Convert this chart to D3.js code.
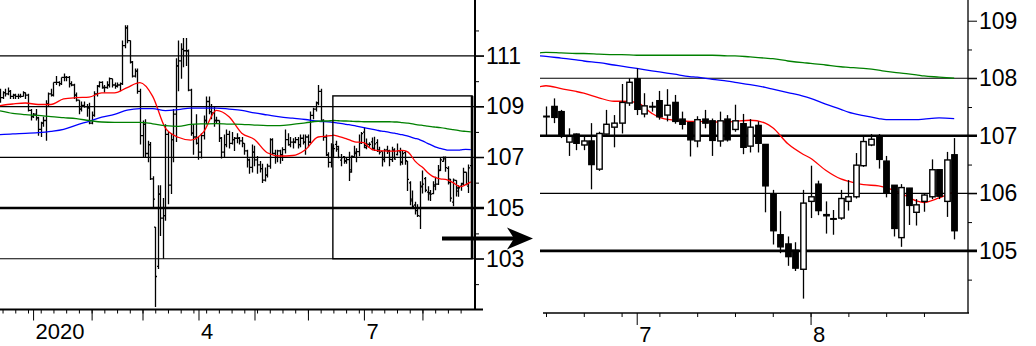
<!DOCTYPE html>
<html>
<head>
<meta charset="utf-8">
<script src="https://cdn.jsdelivr.net/npm/d3@7/dist/d3.min.js"></script>
<style>
  body { margin: 0; background: #fff; }
  svg { display: block; }
  .axis text { font-family: "Liberation Sans", Arial, sans-serif; font-size: 23px; fill: #000; }
  .axis.x text { font-size: 22px; }
</style>
</head>
<body>
<script>
// trading days (weekdays) covered by the chart
var startDate = "2019-12-13";
var endDate = "2020-08-28";
var zoomStart = "2020-06-15";

// daily OHLC, one value per weekday from startDate to endDate
var opens = [
  109.55,109.35,109.55,109.50,109.60,109.40,109.45,109.40,109.40,109.40,
  109.55,109.45,108.85,108.60,108.70,108.55,108.10,108.35,108.45,109.10,
  109.50,109.45,109.95,109.95,109.90,110.15,110.15,110.15,109.90,109.85,
  109.45,109.25,108.90,109.05,109.00,108.95,108.35,108.65,109.50,109.80,
  109.95,109.75,109.75,109.85,110.10,109.85,109.80,109.85,109.90,111.40,
  112.10,111.60,110.75,110.20,110.40,109.60,107.85,108.30,107.15,107.50,
  106.15,104.25,102.70,105.55,104.60,104.70,107.90,105.90,107.70,108.70,
  110.60,110.80,111.25,111.20,111.20,109.65,107.95,107.80,107.55,107.20,
  107.85,108.45,109.20,108.80,108.75,108.45,108.45,107.75,107.20,107.50,
  107.90,107.55,107.70,107.75,107.75,107.65,107.55,107.25,106.90,106.60,
  107.20,106.90,106.70,106.55,106.10,106.30,106.65,107.70,107.15,107.00,
  107.25,107.10,107.30,107.70,107.50,107.60,107.60,107.70,107.50,107.75,
  107.60,107.80,107.60,108.65,108.90,109.15,109.60,108.45,107.80,107.10,
  106.80,107.33,107.51,107.42,106.89,107.03,106.84,106.91,106.42,107.03,
  107.15,107.22,107.57,107.99,107.38,107.51,107.61,107.36,107.58,107.29,
  107.23,106.91,107.29,107.26,106.91,107.29,107.11,107.21,106.82,107.18,
  106.85,105.99,105.28,105.12,105.01,104.68,105.86,106.16,105.63,105.56,
  105.57,105.86,105.94,106.48,106.84,107.00,106.56,106.14,105.23,106.09,
  105.67,105.86,105.94,106.41,105.86,106.67
];
var highs = [
  109.70,109.60,109.70,109.75,109.65,109.50,109.50,109.50,109.50,109.60,
  109.55,109.50,108.90,108.75,108.90,108.60,108.40,108.60,109.25,109.55,
  109.70,109.95,110.20,110.00,110.15,110.30,110.20,110.20,110.00,109.90,
  109.55,109.25,109.20,109.20,109.10,109.15,108.80,109.60,109.85,110.00,
  110.00,109.85,110.00,110.15,110.10,109.95,109.95,109.95,111.60,112.20,
  112.20,111.60,110.80,110.50,110.50,109.70,108.45,108.50,107.65,107.60,
  106.25,104.25,105.90,105.90,105.40,108.30,108.00,107.95,108.90,110.90,
  111.60,111.50,111.70,111.70,111.25,109.70,108.30,108.70,107.80,107.95,
  108.65,109.40,109.40,109.10,109.00,108.60,108.45,107.80,107.90,108.10,
  108.05,108.00,107.80,107.95,107.80,107.80,107.55,107.30,106.95,107.50,
  107.45,107.05,106.85,106.75,106.60,106.75,107.75,107.75,107.30,107.30,
  107.30,107.40,108.10,107.95,107.80,107.75,107.80,107.80,107.90,107.90,
  107.90,107.90,108.80,108.95,109.20,109.85,109.70,108.50,107.90,107.20,
  107.55,107.51,107.65,107.45,107.13,107.04,107.01,107.22,107.07,107.45,
  107.36,107.90,108.00,108.17,107.74,107.59,107.78,107.81,107.71,107.42,
  107.23,107.34,107.45,107.30,107.42,107.36,107.54,107.38,107.29,107.25,
  106.85,106.06,105.69,105.25,105.15,106.06,106.48,106.22,105.86,105.71,
  106.06,106.23,106.70,107.01,107.03,107.03,106.65,106.14,106.16,106.09,
  105.90,106.00,106.59,106.41,106.72,106.96
];
var lows = [
  109.15,109.30,109.40,109.45,109.30,109.30,109.30,109.30,109.35,109.40,
  109.30,108.80,108.45,108.55,108.45,107.85,107.80,108.20,107.65,109.00,
  109.40,109.40,109.85,109.80,109.85,110.00,110.00,109.75,109.80,109.30,
  109.20,108.70,108.80,108.95,108.60,108.30,108.30,108.60,109.40,109.75,
  109.70,109.55,109.70,109.75,109.75,109.70,109.75,109.60,109.85,111.30,
  111.50,110.70,110.15,110.15,109.50,107.50,107.00,107.00,106.80,106.10,
  105.00,101.10,102.60,103.90,103.00,104.50,105.15,105.55,106.80,107.60,
  109.60,110.10,110.55,110.60,109.60,107.85,107.10,107.50,106.90,106.95,
  107.70,108.30,108.70,108.50,108.20,108.35,107.60,106.95,107.00,107.40,
  107.35,107.50,107.25,107.55,107.50,107.40,107.10,106.60,106.35,106.40,
  106.65,106.35,106.40,105.99,106.05,106.20,106.55,107.10,106.75,106.80,
  106.75,106.85,107.15,107.45,107.40,107.35,107.55,107.35,107.40,107.50,
  107.10,107.40,107.55,108.50,108.80,109.05,108.40,107.65,107.05,106.60,
  106.60,107.01,107.22,106.96,106.65,106.75,106.75,106.07,106.39,107.02,
  106.80,107.04,107.52,107.36,107.32,107.42,107.28,107.25,107.21,107.11,
  106.64,106.80,107.13,106.65,106.81,106.90,107.07,106.68,106.71,106.71,
  105.67,105.11,104.96,104.74,104.65,104.17,105.57,105.62,105.30,105.28,
  105.54,105.70,105.91,106.46,106.82,106.43,105.93,105.25,105.07,105.45,
  105.44,105.68,105.90,105.90,105.59,105.20
];
var closes = [
  109.35,109.55,109.50,109.60,109.40,109.45,109.40,109.40,109.40,109.55,
  109.45,108.85,108.60,108.70,108.55,108.10,108.35,108.45,109.10,109.50,
  109.45,109.95,109.95,109.90,110.15,110.15,110.15,109.90,109.85,109.45,
  109.25,108.90,109.05,109.00,108.95,108.35,108.65,109.50,109.80,109.95,
  109.75,109.75,109.85,110.10,109.85,109.80,109.85,109.90,111.40,112.10,
  111.60,110.75,110.20,110.40,109.60,107.85,108.30,107.15,107.50,106.15,
  105.35,102.30,105.55,104.60,104.70,107.90,105.90,107.70,108.70,110.60,
  110.80,111.25,111.20,111.20,109.65,107.95,107.80,107.55,107.20,107.85,
  108.45,109.20,108.80,108.75,108.45,108.45,107.75,107.20,107.50,107.90,
  107.55,107.70,107.75,107.75,107.65,107.55,107.25,106.90,106.60,107.20,
  106.90,106.70,106.55,106.10,106.30,106.65,107.70,107.15,107.00,107.25,
  107.10,107.30,107.70,107.50,107.60,107.60,107.70,107.50,107.75,107.60,
  107.80,107.60,108.65,108.90,109.15,109.60,108.45,107.80,107.10,106.80,
  107.40,107.34,107.32,107.00,106.99,106.87,106.91,106.50,107.04,107.20,
  107.22,107.58,107.93,107.46,107.52,107.51,107.33,107.53,107.25,107.20,
  106.93,107.28,107.22,106.92,107.26,106.93,107.26,106.80,107.15,106.87,
  106.13,105.35,105.07,104.90,104.70,105.83,105.94,105.70,105.61,105.55,
  105.91,105.94,106.49,106.90,106.94,106.59,106.00,105.39,106.10,105.79,
  105.80,105.97,106.41,105.95,106.58,105.35
];

// moving averages at these days
var maDates = [
  "2019-12-13","2019-12-20","2019-12-27","2020-01-03","2020-01-10","2020-01-17","2020-01-24",
  "2020-01-31","2020-02-07","2020-02-14","2020-02-21","2020-02-28","2020-03-06","2020-03-13",
  "2020-03-20","2020-03-27","2020-04-03","2020-04-10","2020-04-17","2020-04-24","2020-05-01",
  "2020-05-08","2020-05-15","2020-05-22","2020-05-29","2020-06-05","2020-06-12",
  "2020-06-15","2020-06-17","2020-06-19","2020-06-22","2020-06-24","2020-06-26","2020-06-29",
  "2020-07-01","2020-07-03","2020-07-06","2020-07-08","2020-07-10","2020-07-13","2020-07-15",
  "2020-07-17","2020-07-20","2020-07-22","2020-07-24","2020-07-27","2020-07-29","2020-07-31",
  "2020-08-03","2020-08-05","2020-08-07","2020-08-10","2020-08-12","2020-08-14","2020-08-17",
  "2020-08-19","2020-08-21","2020-08-24","2020-08-26","2020-08-28"
];
var ma25 = [
  109.04,109.10,109.14,109.08,109.08,109.30,109.35,109.37,109.54,109.54,109.75,109.94,109.40,108.15,
  107.79,107.68,108.00,108.85,108.60,107.95,107.70,107.18,107.05,107.07,107.30,107.80,107.85,
  107.87,107.82,107.77,107.74,107.66,107.60,107.60,107.58,107.39,107.32,107.27,107.25,107.25,107.24,
  107.24,107.25,107.27,107.22,107.14,106.86,106.68,106.61,106.40,106.25,106.21,106.15,106.13,106.10,
  106.00,105.87,105.84,105.92,106.03
];
var ma75 = [
  107.89,107.92,107.94,107.97,108.02,108.10,108.27,108.42,108.58,108.69,108.86,108.92,108.92,108.84,
  108.88,108.94,108.94,108.94,108.90,108.85,108.75,108.67,108.59,108.54,108.49,108.42,108.39,
  108.38,108.35,108.32,108.30,108.27,108.23,108.21,108.17,108.13,108.11,108.07,108.03,108.02,107.98,
  107.95,107.93,107.89,107.84,107.81,107.75,107.69,107.65,107.55,107.46,107.41,107.35,107.30,107.28,
  107.28,107.28,107.29,107.31,107.30
];
var ma200 = [
  108.83,108.73,108.68,108.65,108.60,108.56,108.52,108.45,108.39,108.38,108.38,108.38,108.32,108.25,
  108.22,108.30,108.32,108.33,108.31,108.30,108.27,108.25,108.25,108.30,108.36,108.42,108.44,
  108.45,108.44,108.43,108.43,108.42,108.41,108.41,108.40,108.40,108.40,108.40,108.40,108.40,108.40,
  108.39,108.39,108.37,108.35,108.34,108.30,108.27,108.26,108.23,108.20,108.19,108.17,108.14,108.12,
  108.09,108.06,108.04,108.02,108.00
];

// axis labels
var leftTicks = [103, 105, 107, 109, 111];
var leftMinor = [102, 104, 106, 108, 110, 112];
var leftThick = [105];
var rightTicks = [105, 106, 107, 108, 109];
var rightMinor = [104.5, 105.5, 106.5, 107.5, 108.5];
var rightGrid = [105, 106, 107, 108];
var rightThick = [105, 107];
var leftMonths = ["2020-01", "2020-04", "2020-07"];
var leftMonthText = ["2020", "4", "7"];
var rightMonths = ["2020-07", "2020-08"];
var rightMonthText = ["7", "8"];
// the zoomed box drawn on the left panel
var boxLow = 103, boxHigh = 109.42;

var maColors = ["#ff0000", "#0000ff", "#008000"];

var parseDate = d3.timeParse("%Y-%m-%d");
var fmtDay = d3.timeFormat("%Y-%m-%d");
var fmtMonth = d3.timeFormat("%Y-%m");
var dates = d3.timeDay.range(parseDate(startDate), d3.timeDay.offset(parseDate(endDate), 1))
   .filter(function(d) { return d.getDay() !== 0 && d.getDay() !== 6; });
var dayIndex = {};
dates.forEach(function(d, i) { dayIndex[fmtDay(d)] = i; });

var bars = dates.map(function(d, i) {
   return {i: i, o: opens[i], h: highs[i], l: lows[i], c: closes[i]};
});
var maSeries = [ma25, ma75, ma200].map(function(vals) {
   return maDates.map(function(s, k) { return {i: dayIndex[s], v: vals[k]}; });
});

var mondays = d3.range(dates.length).filter(function(i) { return dates[i].getDay() === 1; });
var monthStarts = d3.range(1, dates.length).filter(function(i) {
   return dates[i].getMonth() !== dates[i - 1].getMonth();
});

var svg = d3.select("body").append("svg")
   .attr("width", 1036)
   .attr("height", 346);
var defs = svg.append("defs");

function monthLabel(months, texts) {
   return function(i) {
      var k = months.indexOf(fmtMonth(dates[i]));
      return k >= 0 ? texts[k] : "";
   };
}

function styleXLabels(g) {
   g.select(".domain").remove();
   g.selectAll("text")
      .attr("text-anchor", "start")
      .attr("x", 2)
      .attr("y", 29)
      .attr("dy", 0);
}

// ================= left panel =================
var xL = d3.scaleLinear().domain([0, dates.length - 1]).range([0, 470.8]);
var yL = d3.scaleLinear().domain([101, 113.2]).range([309.5, 0]);

defs.append("clipPath").attr("id", "clipL")
   .append("rect").attr("x", 0).attr("y", 0).attr("width", 475).attr("height", 309);

svg.append("g").selectAll("line")
   .data(leftTicks)
   .enter().append("line")
      .attr("x1", 0).attr("x2", 484)
      .attr("y1", function(d) { return yL(d); })
      .attr("y2", function(d) { return yL(d); })
      .attr("stroke", "#000")
      .attr("stroke-width", function(d) { return leftThick.indexOf(d) >= 0 ? 2.6 : 1.2; });

var gL = svg.append("g").attr("clip-path", "url(#clipL)");

gL.selectAll(".bar")
   .data(bars)
   .enter().append("path")
      .attr("class", "bar")
      .attr("d", function(d) {
         var x = Math.round(xL(d.i)) + 0.5;
         return "M" + x + "," + yL(d.h) + "V" + yL(d.l) +
            "M" + (x - 1.5) + "," + yL(d.o) + "H" + x +
            "M" + x + "," + yL(d.c) + "H" + (x + 1.5);
      })
      .attr("stroke", "#000")
      .attr("stroke-width", 1.3)
      .attr("fill", "none");

var lineL = d3.line()
   .x(function(d) { return xL(d.i); })
   .y(function(d) { return yL(d.v); })
   .curve(d3.curveMonotoneX);

gL.selectAll(".ma")
   .data(maSeries)
   .enter().append("path")
      .attr("class", "ma")
      .attr("d", lineL)
      .attr("fill", "none")
      .attr("stroke", function(d, k) { return maColors[k]; })
      .attr("stroke-width", 1.3);

// box marking the zoomed range
var boxX0 = xL(dayIndex[zoomStart] - 0.2);
var boxX1 = xL(dates.length - 1 + 0.5);
svg.append("rect")
   .attr("x", boxX0)
   .attr("y", yL(boxHigh))
   .attr("width", boxX1 - boxX0)
   .attr("height", yL(boxLow) - yL(boxHigh))
   .attr("fill", "none")
   .attr("stroke", "#000")
   .attr("stroke-width", 1.4);
svg.append("line")
   .attr("x1", boxX1).attr("x2", boxX1)
   .attr("y1", yL(boxHigh)).attr("y2", yL(boxLow))
   .attr("stroke", "#000")
   .attr("stroke-width", 2.6);

// y axis (right side of the left panel)
svg.append("g")
   .attr("class", "axis")
   .attr("transform", "translate(475,0)")
   .call(d3.axisRight(yL).tickValues(leftMinor).tickSize(4).tickFormat("").tickSizeOuter(0))
   .call(function(g) { g.select(".domain").remove(); });
svg.append("g")
   .attr("class", "axis")
   .attr("transform", "translate(475,0)")
   .call(d3.axisRight(yL).tickValues(leftTicks).tickSize(9).tickPadding(2).tickFormat(d3.format("d")).tickSizeOuter(0))
   .call(function(g) { g.select(".domain").remove(); });
svg.append("line")
   .attr("x1", 475).attr("x2", 475).attr("y1", 0).attr("y2", 310)
   .attr("stroke", "#000").attr("stroke-width", 2);

// x axis
svg.append("g")
   .attr("class", "axis x")
   .attr("transform", "translate(0,309.5)")
   .call(d3.axisBottom(xL).tickValues(mondays).tickSize(4).tickFormat(""))
   .call(function(g) { g.select(".domain").remove(); });
svg.append("g")
   .attr("class", "axis x")
   .attr("transform", "translate(0,309.5)")
   .call(d3.axisBottom(xL).tickValues(monthStarts).tickSize(11).tickFormat(monthLabel(leftMonths, leftMonthText)))
   .call(styleXLabels);
svg.append("line")
   .attr("x1", 0).attr("x2", 483).attr("y1", 309.5).attr("y2", 309.5)
   .attr("stroke", "#000").attr("stroke-width", 2);

// arrow to the zoomed panel
var arrowY = yL(103.8);
svg.append("line")
   .attr("x1", 442).attr("x2", 520).attr("y1", arrowY).attr("y2", arrowY)
   .attr("stroke", "#000").attr("stroke-width", 4);
svg.append("path")
   .attr("d", "M533," + arrowY + "L507," + (arrowY - 11) + "L514," + arrowY + "L507," + (arrowY + 11) + "Z")
   .attr("fill", "#000");

// ================= right panel =================
var iz0 = dayIndex[zoomStart];
var iz1 = dates.length - 1;
var xR = d3.scaleLinear().domain([iz0, iz1]).range([546, 954.2]);
var yR = d3.scaleLinear().domain([103.92, 109.36]).range([313, 0]);
var zoomBars = bars.filter(function(d) { return d.i >= iz0; });

defs.append("clipPath").attr("id", "clipR")
   .append("rect").attr("x", 540).attr("y", 0).attr("width", 428).attr("height", 312);

svg.append("g").selectAll("line")
   .data(rightGrid)
   .enter().append("line")
      .attr("x1", 540).attr("x2", 977)
      .attr("y1", function(d) { return yR(d); })
      .attr("y2", function(d) { return yR(d); })
      .attr("stroke", "#000")
      .attr("stroke-width", function(d) { return rightThick.indexOf(d) >= 0 ? 2.6 : 1.2; });

var gR = svg.append("g").attr("clip-path", "url(#clipR)");

var lineR = d3.line()
   .x(function(d) { return xR(d.i); })
   .y(function(d) { return yR(d.v); })
   .curve(d3.curveMonotoneX);

gR.selectAll(".ma")
   .data(maSeries)
   .enter().append("path")
      .attr("class", "ma")
      .attr("d", lineR)
      .attr("fill", "none")
      .attr("stroke", function(d, k) { return maColors[k]; })
      .attr("stroke-width", 1.3);

var bodyW = 5.4;
var candle = gR.selectAll(".candle")
   .data(zoomBars)
   .enter().append("g")
      .attr("class", "candle");

candle.append("line")
   .attr("x1", function(d) { return Math.round(xR(d.i)) + 0.5; })
   .attr("x2", function(d) { return Math.round(xR(d.i)) + 0.5; })
   .attr("y1", function(d) { return yR(d.h); })
   .attr("y2", function(d) { return yR(d.l); })
   .attr("stroke", "#000")
   .attr("stroke-width", 1.3);

candle.append("rect")
   .attr("x", function(d) { return Math.round(xR(d.i)) + 0.5 - bodyW / 2; })
   .attr("y", function(d) { return yR(Math.max(d.o, d.c)); })
   .attr("width", bodyW)
   .attr("height", function(d) { return Math.max(Math.abs(yR(d.o) - yR(d.c)), 0.6); })
   .attr("fill", function(d) { return d.c < d.o ? "#000" : "#fff"; })
   .attr("stroke", "#000")
   .attr("stroke-width", 1.4);

// y axis
svg.append("g")
   .attr("class", "axis")
   .attr("transform", "translate(968,0)")
   .call(d3.axisRight(yR).tickValues(rightMinor).tickSize(4).tickFormat("").tickSizeOuter(0))
   .call(function(g) { g.select(".domain").remove(); });
svg.append("g")
   .attr("class", "axis")
   .attr("transform", "translate(968,0)")
   .call(d3.axisRight(yR).tickValues(rightTicks).tickSize(9).tickPadding(2).tickFormat(d3.format("d")).tickSizeOuter(0))
   .call(function(g) { g.select(".domain").remove(); });
svg.append("line")
   .attr("x1", 968).attr("x2", 968).attr("y1", 0).attr("y2", 313)
   .attr("stroke", "#000").attr("stroke-width", 1.3);

// x axis
svg.append("g")
   .attr("class", "axis x")
   .attr("transform", "translate(0,313)")
   .call(d3.axisBottom(xR).tickValues(mondays.filter(function(i) { return i >= iz0; })).tickSize(4).tickFormat(""))
   .call(function(g) { g.select(".domain").remove(); });
svg.append("g")
   .attr("class", "axis x")
   .attr("transform", "translate(0,313)")
   .call(d3.axisBottom(xR).tickValues(monthStarts.filter(function(i) { return i >= iz0; }))
      .tickSize(12).tickFormat(monthLabel(rightMonths, rightMonthText)))
   .call(styleXLabels);
svg.append("line")
   .attr("x1", 543).attr("x2", 969).attr("y1", 313).attr("y2", 313)
   .attr("stroke", "#000").attr("stroke-width", 1.3);
</script>
</body>
</html>
